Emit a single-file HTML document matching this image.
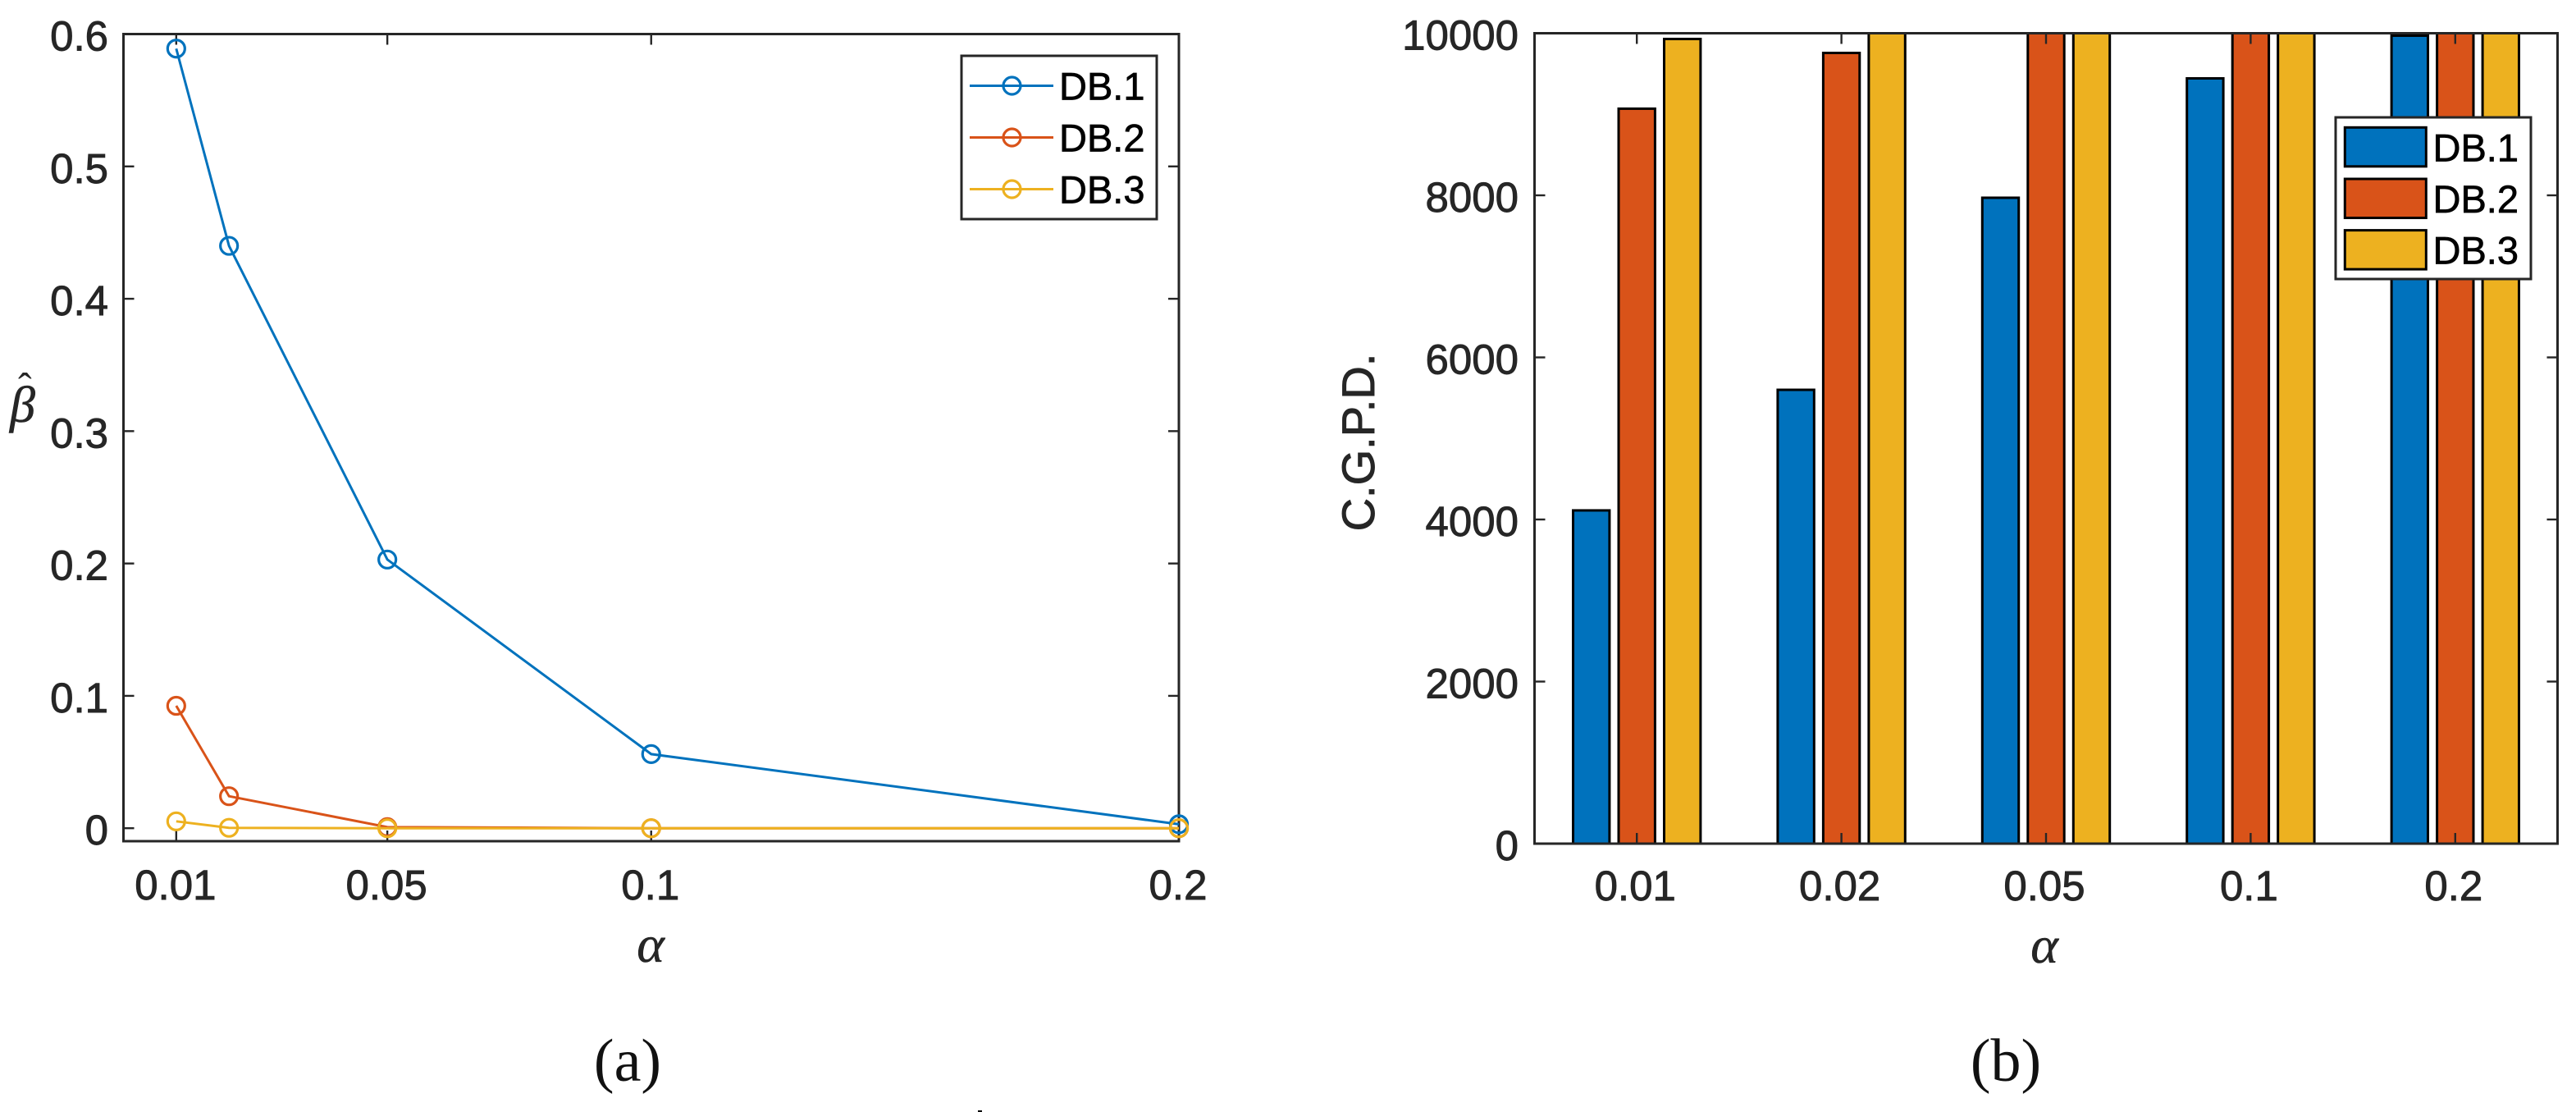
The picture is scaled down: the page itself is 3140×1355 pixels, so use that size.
<!DOCTYPE html>
<html lang="en">
<head>
<meta charset="utf-8">
<title>Beta-hat and C.G.P.D. versus alpha</title>
<style>
html,body{margin:0;padding:0;background:#fff;}
svg{display:block;}
text{font-family:"Liberation Sans",Arial,sans-serif;}
.tick{font-size:51px;fill:#262626;stroke:#262626;stroke-width:0.9px;}
.leg{font-size:47px;fill:#000;stroke:#000;stroke-width:0.7px;}
.ser{font-family:"Liberation Serif","DejaVu Serif",serif;fill:#262626;}
</style>
</head>
<body>
<svg id="figure" xmlns="http://www.w3.org/2000/svg" width="3140" height="1355" viewBox="0 0 3140 1355">
  <rect x="0" y="0" width="3140" height="1355" fill="#fff"/>
  <defs>
    <clipPath id="bar-clip"><rect x="1870.5" y="40.5" width="1247" height="987.5"/></clipPath>
  </defs>

  <g id="line-chart">
    <g id="left-axes"></g>
    <g id="left-marks"></g>
    <text class="ser" x="12" y="514" font-size="62" font-style="italic" stroke="#262626" stroke-width="0.6">β</text>
    <text class="ser" x="22" y="489" font-size="50">ˆ</text>
    <text class="ser" x="793" y="1172" font-size="64" font-style="italic" text-anchor="middle" stroke="#262626" stroke-width="0.5">α</text>
    <text class="ser" x="765" y="1317" font-size="74" text-anchor="middle" style="fill:#111">(a)</text>
    <g>
      <rect x="1172" y="68" width="238" height="199" fill="#fff" stroke="#262626" stroke-width="3"/>
      <g>
        <line x1="1182" x2="1284" y1="104.5" y2="104.5" stroke="#0072BD" stroke-width="3"/>
        <circle cx="1233.5" cy="104.5" r="10.5" fill="none" stroke="#0072BD" stroke-width="3.2"/>
        <text class="leg" x="1291" y="121.5">DB.1</text>
      </g>
      <g>
        <line x1="1182" x2="1284" y1="167.5" y2="167.5" stroke="#D95319" stroke-width="3"/>
        <circle cx="1233.5" cy="167.5" r="10.5" fill="none" stroke="#D95319" stroke-width="3.2"/>
        <text class="leg" x="1291" y="184.5">DB.2</text>
      </g>
      <g>
        <line x1="1182" x2="1284" y1="230.5" y2="230.5" stroke="#EDB120" stroke-width="3"/>
        <circle cx="1233.5" cy="230.5" r="10.5" fill="none" stroke="#EDB120" stroke-width="3.2"/>
        <text class="leg" x="1291" y="247.5">DB.3</text>
      </g>
    </g>
  </g>

  <g id="bar-chart">
    <g id="right-marks" clip-path="url(#bar-clip)"></g>
    <g id="right-axes"></g>
    <text transform="translate(1675,539) rotate(-90)" font-size="56" text-anchor="middle" fill="#262626" stroke="#262626" stroke-width="0.9">C.G.P.D.</text>
    <text class="ser" x="2492" y="1173" font-size="64" font-style="italic" text-anchor="middle" stroke="#262626" stroke-width="0.5">α</text>
    <text class="ser" x="2445" y="1317" font-size="74" text-anchor="middle" style="fill:#111">(b)</text>
    <g>
      <rect x="2847" y="143" width="238" height="197" fill="#fff" stroke="#262626" stroke-width="3"/>
      <g>
        <rect x="2858.3" y="155.3" width="99" height="47.5" fill="#0072BD" stroke="#000" stroke-width="3"/>
        <text class="leg" x="2965.5" y="196.5">DB.1</text>
      </g>
      <g>
        <rect x="2858.3" y="218" width="99" height="47.5" fill="#D95319" stroke="#000" stroke-width="3"/>
        <text class="leg" x="2965.5" y="259">DB.2</text>
      </g>
      <g>
        <rect x="2858.3" y="280.6" width="99" height="47.5" fill="#EDB120" stroke="#000" stroke-width="3"/>
        <text class="leg" x="2965.5" y="321.5">DB.3</text>
      </g>
    </g>
  </g>
  <rect x="1192" y="1353" width="5" height="2" fill="#000"/>
</svg>
<script>
// ---- Line chart data ----
const lineAlpha = [0.01, 0.02, 0.05, 0.1, 0.2];
const lineDb1 = [0.589, 0.44, 0.203, 0.056, 0.003];
const lineDb2 = [0.0925, 0.0242, 0.0008, 0, 0];
const lineDb3 = [0.0052, 0.0003, 0, 0, 0];
const lineXTicks = [0.01, 0.05, 0.1, 0.2];
const lineXTickLabels = ['0.01', '0.05', '0.1', '0.2'];
const lineYTicks = [0, 0.1, 0.2, 0.3, 0.4, 0.5, 0.6];
const lineYTickLabels = ['0', '0.1', '0.2', '0.3', '0.4', '0.5', '0.6'];

// ---- Bar chart data ----
const barCategories = ['0.01', '0.02', '0.05', '0.1', '0.2'];
const barDb1 = [4112, 5600, 7970, 9443, 9970];
const barDb2 = [9069, 9757, 10000, 10000, 10000];
const barDb3 = [9929, 10000, 10000, 10000, 10000];
const barYTicks = [0, 2000, 4000, 6000, 8000, 10000];
const barYTickLabels = ['0', '2000', '4000', '6000', '8000', '10000'];

const NS = 'http://www.w3.org/2000/svg';
const INK = '#262626';
const BLUE = '#0072BD';
const RED = '#D95319';
const YELLOW = '#EDB120';

function make(parent, tag, attrs, content) {
  const el = document.createElementNS(NS, tag);
  for (const k in attrs) el.setAttribute(k, attrs[k]);
  if (content !== undefined) el.textContent = content;
  parent.appendChild(el);
  return el;
}

// Axis functions: line chart
const L = { left: 150.5, right: 1437, top: 41.5, bottom: 1025, xMin: 0, xMax: 0.2, yMin: -0.0098, yMax: 0.6 };
function lx(v) { return L.left + (v - L.xMin) / (L.xMax - L.xMin) * (L.right - L.left); }
function ly(v) { return L.top + (L.yMax - v) / (L.yMax - L.yMin) * (L.bottom - L.top); }

// Axis functions: bar chart
const R = { left: 1870.5, right: 3117.5, top: 40.5, bottom: 1028, catMin: 0.5, catMax: 5.5, yMin: 0, yMax: 10000 };
function rx(c) { return R.left + (c - R.catMin) / (R.catMax - R.catMin) * (R.right - R.left); }
function ry(v) { return R.bottom - (v - R.yMin) / (R.yMax - R.yMin) * (R.bottom - R.top); }

const TICK = 13;

// ---- Draw line chart axes ----
const leftAxes = document.getElementById('left-axes');
const leftFrame = make(leftAxes, 'rect', { x: L.left, y: L.top, width: L.right - L.left, height: L.bottom - L.top, fill: 'none', stroke: INK, 'stroke-width': 3 });


lineXTicks.forEach(function (v, i) {
  const x = lx(v);
  const b = make(leftAxes, 'line', { x1: x, x2: x, y1: L.bottom, y2: L.bottom - TICK, stroke: INK, 'stroke-width': 2.4 });
  
  
  const t = make(leftAxes, 'line', { x1: x, x2: x, y1: L.top, y2: L.top + TICK, stroke: INK, 'stroke-width': 2.4 });
  
  
  const lab = make(leftAxes, 'text', { class: 'tick', x: x - 1, y: 1096, 'text-anchor': 'middle' }, lineXTickLabels[i]);
  
  
});
lineYTicks.forEach(function (v, i) {
  const y = ly(v);
  const a = make(leftAxes, 'line', { x1: L.left, x2: L.left + TICK, y1: y, y2: y, stroke: INK, 'stroke-width': 2.4 });
  
  
  const c = make(leftAxes, 'line', { x1: L.right, x2: L.right - TICK, y1: y, y2: y, stroke: INK, 'stroke-width': 2.4 });
  
  
  const lab = make(leftAxes, 'text', { class: 'tick', x: 132, y: y + 20, 'text-anchor': 'end' }, lineYTickLabels[i]);
  
  
});

// ---- Draw line chart series ----
const leftMarks = document.getElementById('left-marks');
function drawLine(values, color, name) {
  const pts = values.map(function (v, i) { return lx(lineAlpha[i]).toFixed(2) + ',' + ly(v).toFixed(2); }).join(' ');
  const line = make(leftMarks, 'polyline', { points: pts, fill: 'none', stroke: color, 'stroke-width': 3 });
  
  
  values.forEach(function (v, i) {
    const dot = make(leftMarks, 'circle', { cx: lx(lineAlpha[i]), cy: ly(v), r: 10.5, fill: 'none', stroke: color, 'stroke-width': 3.2 });
    
    
  });
}
drawLine(lineDb1, BLUE, 'db1');
drawLine(lineDb2, RED, 'db2');
drawLine(lineDb3, YELLOW, 'db3');

// ---- Draw bar chart series ----
const rightMarks = document.getElementById('right-marks');
const BAR_OFFSET = 0.2225;
const BAR_WIDTH = 0.178;
function drawBars(values, color, groupIndex, name) {
  values.forEach(function (v, i) {
    const c = i + 1 + (groupIndex - 1) * BAR_OFFSET;
    const x0 = rx(c - BAR_WIDTH / 2);
    const x1 = rx(c + BAR_WIDTH / 2);
    const bar = make(rightMarks, 'rect', { x: x0, y: ry(v), width: x1 - x0, height: ry(0) - ry(v), fill: color, stroke: '#000', 'stroke-width': 3 });
    
    
  });
}
drawBars(barDb1, BLUE, 0, 'db1');
drawBars(barDb2, RED, 1, 'db2');
drawBars(barDb3, YELLOW, 2, 'db3');

// ---- Draw bar chart axes ----
const rightAxes = document.getElementById('right-axes');
const rightFrame = make(rightAxes, 'rect', { x: R.left, y: R.top, width: R.right - R.left, height: R.bottom - R.top, fill: 'none', stroke: INK, 'stroke-width': 3 });


barCategories.forEach(function (label, i) {
  const x = rx(i + 1);
  const b = make(rightAxes, 'line', { x1: x, x2: x, y1: R.bottom, y2: R.bottom - TICK, stroke: INK, 'stroke-width': 2.4 });
  
  
  const t = make(rightAxes, 'line', { x1: x, x2: x, y1: R.top, y2: R.top + TICK, stroke: INK, 'stroke-width': 2.4 });
  
  
  const lab = make(rightAxes, 'text', { class: 'tick', x: x - 2, y: 1097, 'text-anchor': 'middle' }, label);
  
  
});
barYTicks.forEach(function (v, i) {
  const y = ry(v);
  const a = make(rightAxes, 'line', { x1: R.left, x2: R.left + TICK, y1: y, y2: y, stroke: INK, 'stroke-width': 2.4 });
  
  
  const c = make(rightAxes, 'line', { x1: R.right, x2: R.right - TICK, y1: y, y2: y, stroke: INK, 'stroke-width': 2.4 });
  
  
  const lab = make(rightAxes, 'text', { class: 'tick', x: 1851, y: y + 20, 'text-anchor': 'end' }, barYTickLabels[i]);
  
  
});
</script>
</body>
</html>
